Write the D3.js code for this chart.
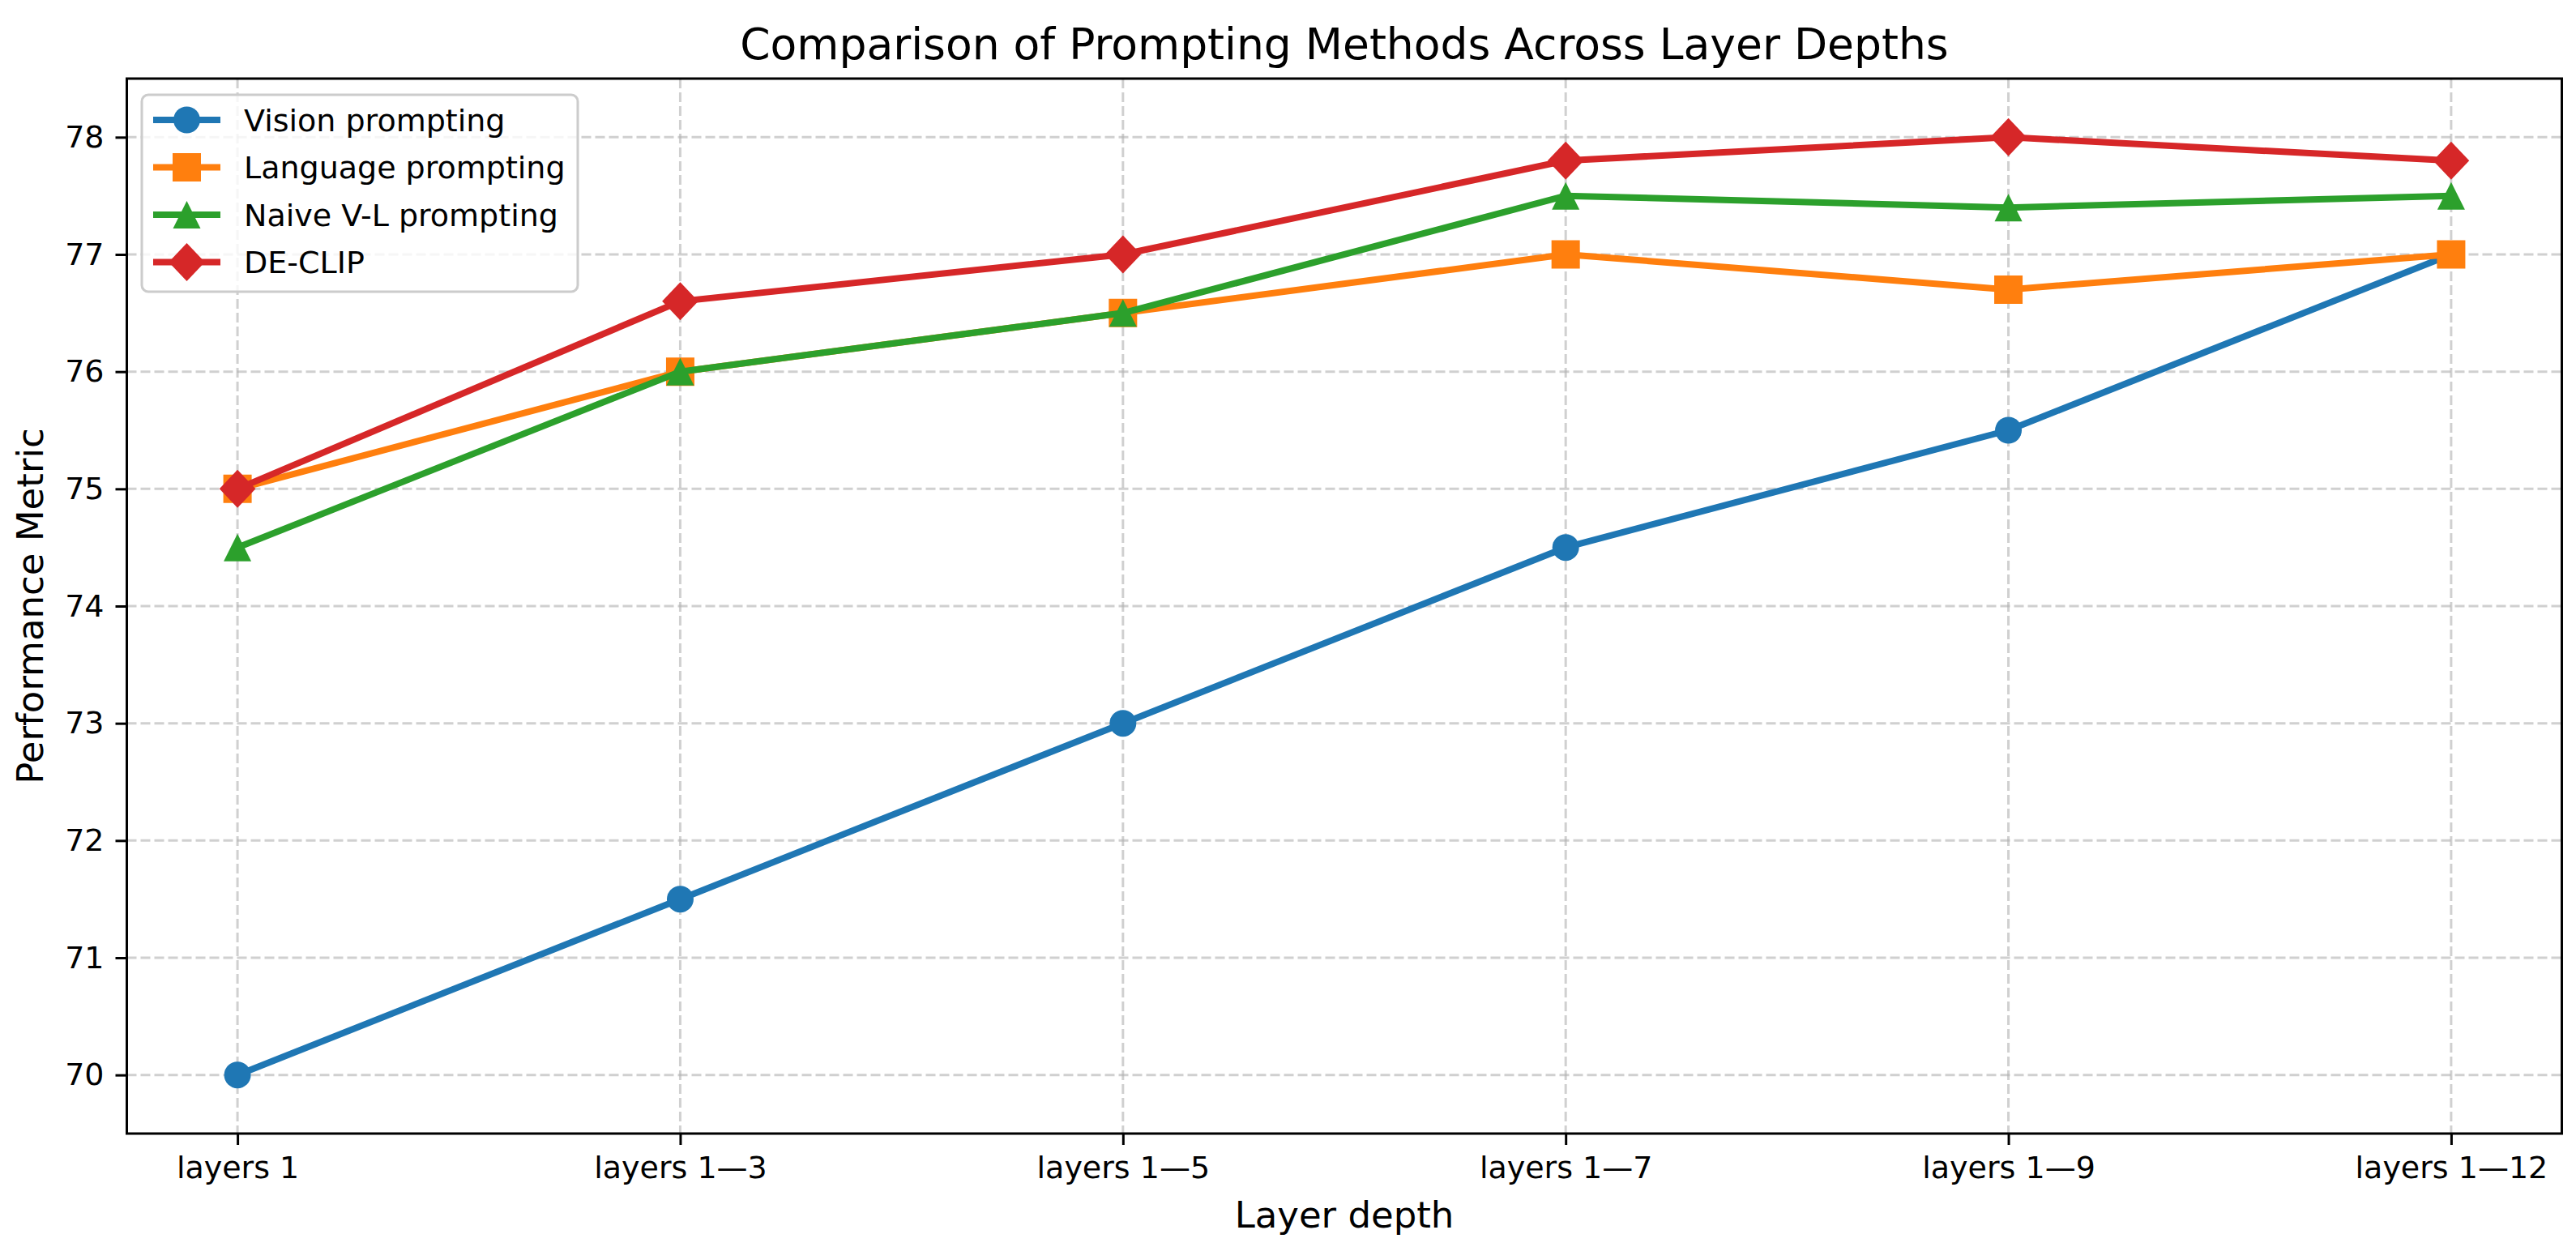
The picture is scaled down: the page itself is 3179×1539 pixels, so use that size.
<!DOCTYPE html>
<html>
<head>
<meta charset="utf-8">
<script src="https://cdn.jsdelivr.net/npm/d3@7"></script>
<style>
  html, body { margin: 0; padding: 0; background: #fff; }
  svg { display: block; }
  text { font-family: "DejaVu Sans", sans-serif; fill: #000; }
</style>
</head>
<body>
<script>
// ---- data ----
const categories = ["layers 1", "layers 1\u20143", "layers 1\u20145", "layers 1\u20147", "layers 1\u20149", "layers 1\u201412"];
const visionPrompting   = [70.0, 71.5, 73.0, 74.5, 75.5, 77.0];
const languagePrompting = [75.0, 76.0, 76.5, 77.0, 76.7, 77.0];
const naiveVLPrompting  = [74.5, 76.0, 76.5, 77.5, 77.4, 77.5];
const deClip            = [75.0, 76.6, 77.0, 77.8, 78.0, 77.8];
const yTicks = [70, 71, 72, 73, 74, 75, 76, 77, 78];
const seriesNames = ["Vision prompting", "Language prompting", "Naive V-L prompting", "DE-CLIP"];
const seriesValues = [visionPrompting, languagePrompting, naiveVLPrompting, deClip];
const seriesColors = ["#1f77b4", "#ff7f0e", "#2ca02c", "#d62728"];
const seriesMarkers = ["circle", "square", "triangle", "diamond"];

const W = 3179, H = 1539;
const plot = { left: 156.5, right: 3161.5, top: 97, bottom: 1399 };

const svg = d3.select("body").append("svg")
  .attr("width", W).attr("height", H).attr("viewBox", `0 0 ${W} ${H}`);

const x = d3.scalePoint().domain(categories).range([plot.left, plot.right]).padding(0.25);
const y = d3.scaleLinear().domain([69.5, 78.5]).range([plot.bottom, plot.top]);

// grid
const grid = svg.append("g").attr("stroke", "#b0b0b0").attr("stroke-opacity", 0.6)
  .attr("stroke-width", 3).attr("stroke-dasharray", "12,5").attr("fill", "none");
grid.selectAll("line.h").data(yTicks).join("line").attr("class", "h")
  .attr("x1", plot.left).attr("x2", plot.right)
  .attr("y1", d => y(d)).attr("y2", d => y(d));
grid.selectAll("line.v").data(categories).join("line").attr("class", "v")
  .attr("x1", d => x(d)).attr("x2", d => x(d))
  .attr("y1", plot.top).attr("y2", plot.bottom);

// axes
const xAxis = d3.axisBottom(x).tickSizeOuter(0).tickSize(14).tickPadding(14);
const gx = svg.append("g").attr("transform", `translate(0,${plot.bottom})`).call(xAxis);
gx.select(".domain").remove();
gx.selectAll(".tick line").attr("stroke", "#000").attr("stroke-width", 3);
gx.selectAll(".tick text").attr("font-size", 38).attr("font-family", "DejaVu Sans").attr("fill", "#000");

const yAxis = d3.axisLeft(y).tickValues(yTicks).tickSizeOuter(0).tickSize(14).tickPadding(14).tickFormat(d3.format("d"));
const gy = svg.append("g").attr("transform", `translate(${plot.left},0)`).call(yAxis);
gy.select(".domain").remove();
gy.selectAll(".tick line").attr("stroke", "#000").attr("stroke-width", 3);
gy.selectAll(".tick text").attr("font-size", 38).attr("font-family", "DejaVu Sans").attr("fill", "#000");

// markers
function markerPath(type) {
  if (type === "circle") { const r = 16.5; return `M${-r},0A${r},${r} 0 1,0 ${r},0A${r},${r} 0 1,0 ${-r},0Z`; }
  if (type === "square") { const s = 17.5; return `M${-s},${-s}H${s}V${s}H${-s}Z`; }
  if (type === "triangle") { const s = 17; return `M0,${-s}L${s},${s}L${-s},${s}Z`; }
  const d = 23.5; return `M0,${-d}L${d * 0.95},0L0,${d}L${-d * 0.95},0Z`;
}

const line = d3.line().x((d, i) => x(categories[i])).y(d => y(d));
const seriesG = svg.append("g");
seriesValues.forEach((vals, si) => {
  const g = seriesG.append("g");
  g.append("path").datum(vals).attr("d", line).attr("fill", "none")
    .attr("stroke", seriesColors[si]).attr("stroke-width", 8).attr("stroke-linejoin", "round").attr("stroke-linecap", "butt");
  g.selectAll("path.m").data(vals).join("path").attr("class", "m")
    .attr("d", markerPath(seriesMarkers[si]))
    .attr("transform", (d, i) => `translate(${x(categories[i])},${y(d)})`)
    .attr("fill", seriesColors[si]);
});

// frame
svg.append("rect").attr("x", plot.left).attr("y", plot.top)
  .attr("width", plot.right - plot.left).attr("height", plot.bottom - plot.top)
  .attr("fill", "none").attr("stroke", "#000").attr("stroke-width", 3);

// legend
const lg = svg.append("g");
lg.append("rect").attr("x", 175).attr("y", 117).attr("width", 538).attr("height", 243)
  .attr("rx", 8).attr("fill", "#fff").attr("fill-opacity", 0.8)
  .attr("stroke", "#cccccc").attr("stroke-width", 3);
seriesNames.forEach((name, i) => {
  const cy = 148 + i * 58.5;
  lg.append("line").attr("x1", 189).attr("x2", 272).attr("y1", cy).attr("y2", cy)
    .attr("stroke", seriesColors[i]).attr("stroke-width", 8);
  lg.append("path").attr("d", markerPath(seriesMarkers[i]))
    .attr("transform", `translate(230.5,${cy})`).attr("fill", seriesColors[i]);
  lg.append("text").attr("x", 301).attr("y", cy).attr("dy", "0.36em")
    .attr("font-size", 38).text(name);
});

// title & labels
svg.append("text").attr("x", (plot.left + plot.right) / 2).attr("y", 73)
  .attr("text-anchor", "middle").attr("font-size", 53.5)
  .text("Comparison of Prompting Methods Across Layer Depths");
svg.append("text").attr("x", (plot.left + plot.right) / 2).attr("y", 1515)
  .attr("text-anchor", "middle").attr("font-size", 45).text("Layer depth");
svg.append("text").attr("transform", `translate(53,${(plot.top + plot.bottom) / 2}) rotate(-90)`)
  .attr("text-anchor", "middle").attr("font-size", 45).text("Performance Metric");
</script>
</body>
</html>
